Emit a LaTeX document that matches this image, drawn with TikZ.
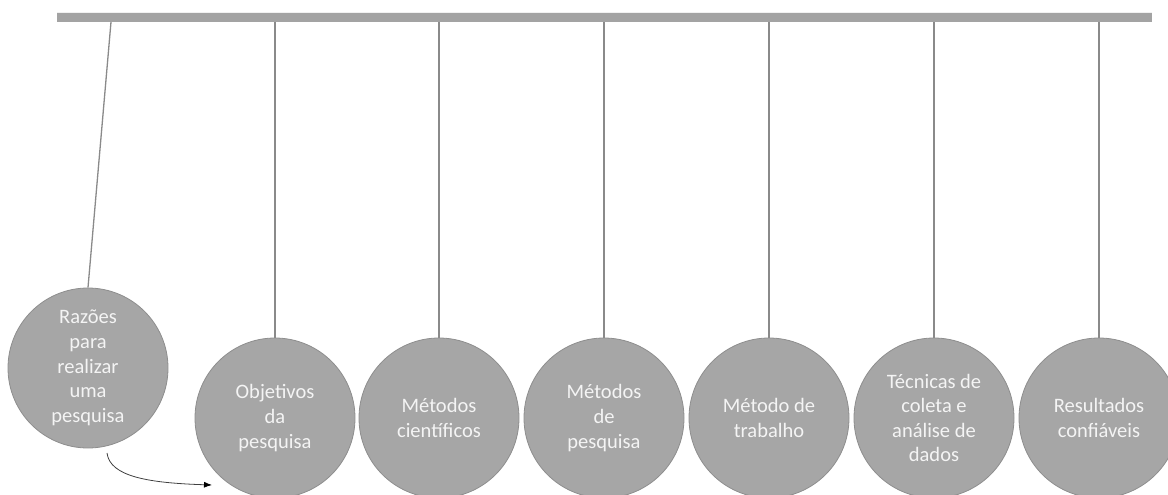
\documentclass[tikz,border=0pt]{standalone}
\usepackage{fontspec}
\setmainfont{Carlito}
\usetikzlibrary{arrows.meta}
\definecolor{ballgray}{HTML}{A6A6A6}
\definecolor{rimgray}{HTML}{8E8E8E}
\definecolor{bargray}{HTML}{A3A3A3}
\definecolor{stringgray}{HTML}{8A8A8A}
\definecolor{textwhite}{HTML}{F4F4F4}
\begin{document}
\begin{tikzpicture}[x=1pt,y=-1pt]

\tikzset{ball/.style={circle,fill=ballgray,draw=rimgray,line width=0.8pt,
    minimum size=160pt,inner sep=0pt,align=center,text=textwhite,
    font=\fontsize{20.5}{24.6}\selectfont},
  string/.style={draw=stringgray,line width=1.3pt}}

\useasboundingbox (0,0) rectangle (1168,495);

%% Bar
\fill[bargray] (57,12) rectangle (1152,22);
\draw[white!85!bargray,line width=0.6pt] (57,12.3) -- (1152,12.3);

%% Balls
\node[ball] (razoes)     at (88,368)  {Razões\\para\\realizar\\uma\\pesquisa};
\node[ball] (objetivos)  at (275,418) {Objetivos\\da\\pesquisa};
\node[ball] (cientificos) at (439,418) {Métodos\\científicos};
\node[ball] (pesquisa)   at (604,418) {Métodos\\de\\pesquisa};
\node[ball] (trabalho)   at (769,418) {Método de\\trabalho};
\node[ball] (tecnicas)   at (934,418) {Técnicas de\\coleta e\\análise de\\dados};
\node[ball] (resultados) at (1099,418) {Resultados\\confiáveis};

%% Strings
\coordinate (hook0) at (111,22);
\draw[string] (hook0) -- (razoes.north);
\foreach \b in {objetivos,cientificos,pesquisa,trabalho,tecnicas,resultados}{
    \coordinate (hook-\b) at (\b.north |- 0,22);
    \draw[string] (hook-\b) -- (\b.north);
}

%% Swing
\coordinate (swingstart) at (107,453);
\coordinate (swingend) at (212,485);
\draw[draw=black!75,line width=0.8pt,-{Latex[length=8pt,width=6pt,color=black]}]
    (swingstart) .. controls (110,477) and (150,483) .. (swingend);

\end{tikzpicture}
\end{document}
